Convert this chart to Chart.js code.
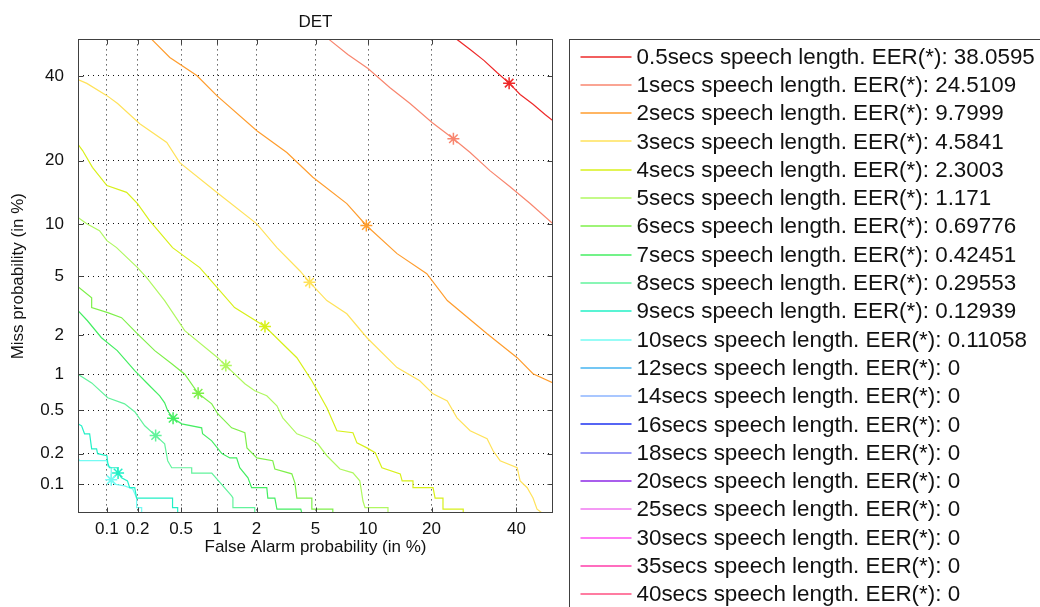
<!DOCTYPE html>
<html>
<head>
<meta charset="utf-8">
<title>DET</title>
<script src="https://cdn.jsdelivr.net/npm/chart.js@4/dist/chart.umd.min.js"></script>
<style>
  html, body { margin: 0; padding: 0; background: #fff; overflow: hidden; }
</style>
</head>
<body>
<canvas id="det" width="1040" height="607"></canvas>
<script>
const durations = ["0.5", "1", "2", "3", "4", "5", "6", "7", "8", "9", "10",
  "12", "14", "16", "18", "20", "25", "30", "35", "40"];
const eerText = ["38.0595", "24.5109", "9.7999", "4.5841", "2.3003", "1.171", "0.69776",
  "0.42451", "0.29553", "0.12939", "0.11058", "0", "0", "0", "0", "0", "0", "0", "0", "0"];
const eers = [38.0595, 24.5109, 9.7999, 4.5841, 2.3003, 1.171, 0.69776, 0.42451, 0.29553, 0.12939, 0.11058];
const colors = ["#ee2a2a", "#f8866f", "#ff9d2e", "#ffe25a", "#d8f01a", "#b0f860", "#7ef04a",
  "#44ee62", "#62f39c", "#22f0c6", "#74fbf3", "#46b4f0", "#8cb4ff", "#1e32f0", "#7878f5",
  "#8c28e6", "#f078f0", "#ff50f0", "#ff3caa", "#ff5082"];

// tick values (in %)
const tickVals = [0.1, 0.2, 0.5, 1, 2, 5, 10, 20, 40];

// DET curves: false alarm % / miss %
const far05 = [25.3, 28.3, 31.6, 34.9, 38.0595, 41.0, 44.5, 47.8, 50];
const miss05 = [50, 47.2, 44.2, 40.9, 38.0595, 35.1, 32.6, 30.1, 28.6];

const far1 = [6.03, 7.76, 10.0, 12.9, 16.1, 20.1, 24.5109, 28.3, 33.1, 38.3, 43.7, 50];
const miss1 = [50, 45.8, 42.0, 36.9, 32.8, 28.2, 24.5109, 21.6, 18.1, 15.3, 12.7, 10.0];

const far2 = [0.272, 0.397, 0.68, 0.993, 2.01, 3.26, 4.81, 7.66, 9.7999, 14.0, 19.1, 23.2, 32.4, 40.2, 44.5, 50];
const miss2 = [50, 45.0, 40.1, 34.8, 26.3, 21.6, 16.9, 12.7, 9.7999, 6.83, 5.18, 3.48, 2.04, 1.35, 1.01, 0.85];

const far3 = [0.05, 0.062, 0.1, 0.128, 0.21, 0.373, 0.486, 0.99, 2.01, 2.79, 3.97, 4.5841, 5.86, 7.66,
  9.87, 14.0, 17.8, 20.3, 23.2, 25.3, 28.3, 32.4, 33.9, 35.7, 40.2, 41.0, 42.9, 44.5, 45.6, 47.0];
const miss3 = [39.0, 38.0, 34.8, 32.8, 27.9, 23.7, 19.6, 14.4, 10.0, 7.4, 5.4, 4.5841, 3.48, 2.83,
  1.91, 1.13, 0.885, 0.69, 0.6, 0.428, 0.327, 0.276, 0.213, 0.171, 0.146, 0.108, 0.092, 0.072, 0.055, 0.05];

const far4 = [0.05, 0.056, 0.071, 0.1, 0.157, 0.2, 0.26, 0.42, 0.72, 1.37, 2.3003, 3.8, 4.74, 5.86,
  6.72, 8.29, 8.72, 9.87, 10.9, 11.8, 14.5, 14.8, 16.6, 16.6, 20.3, 20.7, 22.3, 22.3, 26.7, 26.7];
const miss4 = [23.3, 22.0, 18.7, 15.5, 14.4, 12.7, 10.4, 7.4, 5.64, 3.12, 2.3003, 1.35, 0.885, 0.524,
  0.327, 0.314, 0.253, 0.227, 0.204, 0.146, 0.127, 0.108, 0.108, 0.092, 0.092, 0.072, 0.072, 0.055, 0.055, 0.05];

const far5 = [0.05, 0.062, 0.084, 0.1, 0.125, 0.2, 0.244, 0.357, 0.537, 1.01, 1.171, 1.64, 1.94, 2.37,
  2.79, 3.06, 3.8, 4.61, 5.16, 5.86, 7.0, 8.29, 9.04, 9.4, 9.64, 12.65, 12.65];
const miss5 = [10.8, 10.0, 9.2, 8.1, 7.4, 5.64, 4.89, 3.48, 2.15, 1.35, 1.171, 0.836, 0.732, 0.664,
  0.545, 0.428, 0.307, 0.276, 0.248, 0.191, 0.142, 0.13, 0.108, 0.067, 0.057, 0.057, 0.05];

const far6 = [0.05, 0.0697, 0.0697, 0.102, 0.14, 0.2, 0.29, 0.413, 0.537, 0.69776, 0.904, 1.01, 1.3,
  1.64, 1.7, 2.01, 2.61, 2.7, 3.52, 3.69, 3.8, 4.74, 4.74, 6.36, 6.36];
const miss6 = [4.29, 3.63, 3.12, 2.88, 2.66, 2.04, 1.53, 1.21, 1.0, 0.69776, 0.567, 0.465, 0.348,
  0.314, 0.227, 0.182, 0.171, 0.142, 0.127, 0.103, 0.072, 0.072, 0.055, 0.055, 0.05];

const far7 = [0.05, 0.063, 0.088, 0.127, 0.188, 0.249, 0.322, 0.357, 0.38, 0.42451, 0.505, 0.747, 0.76,
  0.904, 1.09, 1.26, 1.42, 1.5, 1.73, 1.84, 2.37, 2.41, 2.7, 2.79, 4.03, 4.09];
const miss7 = [2.97, 2.53, 1.91, 1.53, 1.07, 0.836, 0.664, 0.578, 0.494, 0.42451, 0.378, 0.348, 0.307,
  0.264, 0.2, 0.182, 0.182, 0.146, 0.116, 0.092, 0.092, 0.072, 0.072, 0.055, 0.055, 0.05];

const far8 = [0.05, 0.0697, 0.102, 0.15, 0.188, 0.234, 0.29553, 0.357, 0.38, 0.413, 0.616, 0.616,
  0.904, 1.3, 1.33, 1.33, 1.94, 1.94];
const miss8 = [1.0, 0.85, 0.639, 0.567, 0.484, 0.363, 0.29553, 0.248, 0.171, 0.146, 0.146, 0.129,
  0.129, 0.0757, 0.072, 0.057, 0.057, 0.05];

const far9 = [0.05, 0.0546, 0.0587, 0.0664, 0.0697, 0.0784, 0.0803, 0.1, 0.102, 0.106, 0.127, 0.12939,
  0.14, 0.16, 0.168, 0.188, 0.196, 0.42, 0.42, 0.466, 0.466];
const miss9 = [0.378, 0.363, 0.307, 0.307, 0.222, 0.222, 0.2, 0.191, 0.163, 0.146, 0.146, 0.12939,
  0.116, 0.108, 0.092, 0.092, 0.072, 0.072, 0.057, 0.057, 0.05];

const far10 = [0.05, 0.052, 0.1, 0.102, 0.11058, 0.11058, 0.119, 0.15, 0.18, 0.196, 0.196, 0.219, 0.219];
const miss10 = [0.182, 0.171, 0.171, 0.152, 0.146, 0.11058, 0.1, 0.096, 0.0895, 0.072, 0.057, 0.057, 0.05];

const curves = [[far05, miss05], [far1, miss1], [far2, miss2], [far3, miss3], [far4, miss4],
  [far5, miss5], [far6, miss6], [far7, miss7], [far8, miss8], [far9, miss9], [far10, miss10]];

// normal deviate (Acklam's approximation), used for the DET axes
function probit(p) {
  const a = [-3.969683028665376e+01, 2.209460984245205e+02, -2.759285104469687e+02,
    1.383577518672690e+02, -3.066479806614716e+01, 2.506628277459239e+00];
  const b = [-5.447609879822406e+01, 1.615858368580409e+02, -1.556989798598866e+02,
    6.680131188771972e+01, -1.328068155288572e+01];
  const c = [-7.784894002430293e-03, -3.223964580411365e-01, -2.400758277161838e+00,
    -2.549732539343734e+00, 4.374664141464968e+00, 2.938163982698783e+00];
  const d = [7.784695709041462e-03, 3.224671290700398e-01, 2.445134137142996e+00,
    3.754408661907416e+00];
  const pl = 0.02425;
  if (p < pl) {
    const q = Math.sqrt(-2 * Math.log(p));
    return (((((c[0] * q + c[1]) * q + c[2]) * q + c[3]) * q + c[4]) * q + c[5]) /
      ((((d[0] * q + d[1]) * q + d[2]) * q + d[3]) * q + 1);
  }
  if (p <= 1 - pl) {
    const q = p - 0.5, r = q * q;
    return (((((a[0] * r + a[1]) * r + a[2]) * r + a[3]) * r + a[4]) * r + a[5]) * q /
      (((((b[0] * r + b[1]) * r + b[2]) * r + b[3]) * r + b[4]) * r + 1);
  }
  const q = Math.sqrt(-2 * Math.log(1 - p));
  return -(((((c[0] * q + c[1]) * q + c[2]) * q + c[3]) * q + c[4]) * q + c[5]) /
    ((((d[0] * q + d[1]) * q + d[2]) * q + d[3]) * q + 1);
}
const pct = v => probit(v / 100);

const FONT = "'Liberation Sans', Arial, sans-serif";

const datasets = durations.map((dur, i) => {
  const c = curves[i];
  return {
    label: dur + "secs speech length. EER(*): " + eerText[i],
    data: c ? c[0].map((f, k) => ({ x: pct(f), y: pct(c[1][k]) })) : [],
    borderColor: colors[i],
    backgroundColor: colors[i],
    borderWidth: 1.2,
    showLine: true,
    pointRadius: 0,
    pointHoverRadius: 0
  };
});
datasets.push({
  label: "EER",
  isMarker: true,
  data: eers.map(e => ({ x: pct(e), y: pct(e) })),
  showLine: false,
  pointStyle: "star",
  pointRadius: 6,
  pointBorderWidth: 1.5,
  pointBorderColor: colors.slice(0, eers.length),
  pointBackgroundColor: colors.slice(0, eers.length)
});

// matlab-like box with inward ticks
const axesBox = {
  id: "axesBox",
  afterDatasetsDraw(chart) {
    const { ctx, chartArea: a, scales: { x, y } } = chart;
    const L = Math.round(a.left) + 0.5, R = Math.round(a.right) - 0.5;
    const T = Math.round(a.top) + 0.5, B = Math.round(a.bottom) - 0.5;
    ctx.save();
    ctx.strokeStyle = "#404040";
    ctx.lineWidth = 1;
    ctx.beginPath();
    x.ticks.forEach(t => {
      const px = Math.round(x.getPixelForValue(t.value)) + 0.5;
      ctx.moveTo(px, T); ctx.lineTo(px, T + 5);
      ctx.moveTo(px, B); ctx.lineTo(px, B - 5);
    });
    y.ticks.forEach(t => {
      const py = Math.round(y.getPixelForValue(t.value)) + 0.5;
      ctx.moveTo(L, py); ctx.lineTo(L + 5, py);
      ctx.moveTo(R, py); ctx.lineTo(R - 5, py);
    });
    ctx.stroke();
    ctx.strokeRect(L, T, R - L, B - T);
    ctx.restore();
  }
};

// legend box at the right of the axes
const boxLegend = {
  id: "boxLegend",
  afterDraw(chart) {
    const { ctx, chartArea: a } = chart;
    const left = Math.round(a.right) + 16.5, top = Math.round(a.top) + 0.5;
    ctx.save();
    ctx.strokeStyle = "#404040";
    ctx.lineWidth = 1;
    ctx.strokeRect(left, top, 1000, 1000);
    ctx.font = "22.4px " + FONT;
    ctx.textBaseline = "middle";
    ctx.textAlign = "left";
    chart.data.datasets.filter(ds => !ds.isMarker).forEach((ds, i) => {
      const yy = top + 17 + i * 28.3;
      ctx.strokeStyle = ds.borderColor;
      ctx.lineWidth = 1.6;
      ctx.beginPath();
      ctx.moveTo(left + 11, Math.round(yy));
      ctx.lineTo(left + 62, Math.round(yy));
      ctx.stroke();
      ctx.fillStyle = "#111";
      ctx.fillText(ds.label, left + 67, yy + 1);
    });
    ctx.restore();
  }
};

const axisCommon = (titleText, titlePad, tickPad) => ({
  type: "linear",
  min: pct(0.05),
  max: 0,
  afterBuildTicks: s => { s.ticks = tickVals.map(v => ({ value: pct(v) })); },
  ticks: {
    callback: (v, i) => String(tickVals[i]),
    autoSkip: false,
    maxRotation: 0,
    padding: tickPad,
    color: "#111",
    font: { family: FONT, size: 17 }
  },
  grid: { color: "#111", lineWidth: 1, drawTicks: false },
  border: { display: false, dash: [1, 4] },
  title: {
    display: true,
    text: titleText,
    color: "#111",
    font: { family: FONT, size: 17 },
    padding: titlePad
  }
});

const xAxis = axisCommon("False Alarm probability (in %)", { top: 0, bottom: 49 }, 6);
xAxis.afterFit = s => { s.height = 94; };
const yAxis = axisCommon("Miss probability (in %)", { top: 8, bottom: 0 }, 14);
yAxis.afterFit = s => { s.width = 78; };

new Chart(document.getElementById("det"), {
  type: "scatter",
  data: { datasets: datasets },
  options: {
    responsive: false,
    animation: false,
    devicePixelRatio: 1,
    layout: { padding: { left: 0, right: 487, top: 0, bottom: 0 } },
    scales: { x: xAxis, y: yAxis },
    plugins: {
      legend: { display: false },
      tooltip: { enabled: false },
      title: {
        display: true,
        text: "DET",
        fullSize: false,
        color: "#111",
        font: { family: FONT, size: 17, weight: "normal" },
        padding: { top: 12, bottom: 7 }
      }
    }
  },
  plugins: [axesBox, boxLegend]
});
</script>
</body>
</html>
